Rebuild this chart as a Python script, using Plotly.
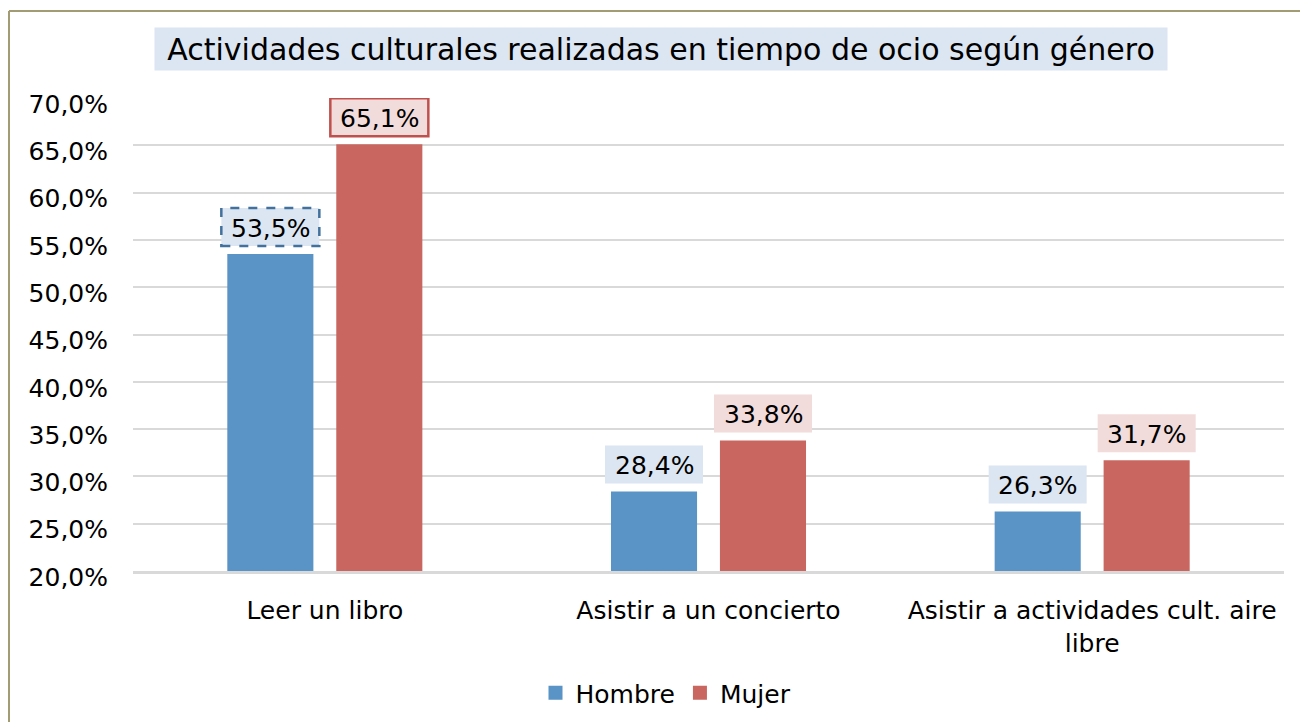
import plotly.graph_objects as go

categories = ["Leer un libro", "Asistir a un concierto", "Asistir a actividades cult. aire<br>libre"]
hombre = [53.5, 28.4, 26.3]
mujer = [65.1, 33.8, 31.7]
series_names = ["Hombre", "Mujer"]
title_text = "Actividades culturales realizadas en tiempo de ocio según género"

BLUE = "#5A93C6"
RED = "#C9665F"
BLUE_BG = "#DCE6F2"
RED_BG = "#F2DCDB"
FONT = "DejaVu Sans"

fig = go.Figure()
fig.add_trace(go.Bar(name=series_names[0], x=categories, y=hombre, marker_color=BLUE,
                     marker_line_width=0, showlegend=False))
fig.add_trace(go.Bar(name=series_names[1], x=categories, y=mujer, marker_color=RED,
                     marker_line_width=0, showlegend=False))
# legend entries with square swatches
for nm, col in zip(series_names, [BLUE, RED]):
    fig.add_trace(go.Scatter(name=nm, x=[categories[0]], y=[None], mode="markers",
                             marker=dict(symbol="square", size=14, color=col), showlegend=True,
                             hoverinfo="skip"))

def fmt(v):
    return f"{v:.1f}".replace(".", ",") + "%"

shapes = []
annotations = []
for series, vals, off, bg, lc in [(0, hombre, -54.5, BLUE_BG, "#41719C"), (1, mujer, 54.5, RED_BG, "#C0504D")]:
    for i, (c, v) in enumerate(zip(categories, vals)):
        special = (i == 0)
        shapes.append(dict(type="rect", xref="x", yref="y", xsizemode="pixel", ysizemode="pixel",
                           xanchor=c, yanchor=v, x0=off - 49, x1=off + 49, y0=8, y1=46,
                           fillcolor=bg,
                           line=dict(color=lc if special else "rgba(0,0,0,0)", width=2.5 if special else 0,
                                     dash="dash" if (special and series == 0) else "solid"),
                           layer="above"))
        annotations.append(dict(x=c, y=v, xref="x", yref="y", text=fmt(v), showarrow=False,
                                xshift=off, yshift=26, yanchor="middle", xanchor="center",
                                font=dict(family=FONT, size=25, color="#000000")))

# title
annotations.append(dict(x=(661 - 133) / 1151, y=(571 - 49) / 473, xref="paper", yref="paper",
                        text=title_text, showarrow=False, xanchor="center", yanchor="middle",
                        bgcolor=BLUE_BG, borderpad=4, width=1004, height=34,
                        font=dict(family=FONT, size=30, color="#000000")))

# outer border (left and top edges; the others lie outside the picture)
BORDER = dict(color="#A39C73", width=2)
shapes.append(dict(type="line", xref="paper", yref="paper",
                   x0=(9 - 133) / 1151, x1=(9 - 133) / 1151,
                   y0=(571 - 740) / 473, y1=(571 - 11) / 473, line=BORDER, layer="below"))
shapes.append(dict(type="line", xref="paper", yref="paper",
                   x0=(9 - 133) / 1151, x1=(1320 - 133) / 1151,
                   y0=(571 - 11) / 473, y1=(571 - 11) / 473, line=BORDER, layer="below"))

fig.update_layout(
    width=1300, height=722,
    margin=dict(l=133, r=16, t=98, b=151, autoexpand=False),
    paper_bgcolor="white", plot_bgcolor="white",
    barmode="group", bargap=0.432, bargroupgap=0.21,
    separators=",.",
    font=dict(family=FONT, size=25, color="#000000"),
    showlegend=True,
    legend=dict(orientation="h", x=(666 - 133) / 1151, xanchor="center",
                y=(571 - 693) / 473, yanchor="middle",
                font=dict(family=FONT, size=25), itemwidth=30, traceorder="normal"),
    shapes=shapes, annotations=annotations,
)
fig.update_yaxes(range=[20, 70], dtick=5, tickformat=".1f", ticksuffix="%",
                 showgrid=True, gridcolor="#D9D9D9", gridwidth=2, zeroline=False,
                 showline=False, ticks="", ticklabelstandoff=24, ticklabelshift=6,
                 automargin=False,
                 tickfont=dict(family=FONT, size=25, color="#000000"))
fig.update_xaxes(showline=True, linecolor="#D9D9D9", linewidth=3, ticks="",
                 ticklabelstandoff=15, automargin=False,
                 tickfont=dict(family=FONT, size=25, color="#000000"))

fig.write_html("out.html", config={"displayModeBar": False},
               post_script="document.body.style.margin='0';document.body.style.overflow='hidden';")
